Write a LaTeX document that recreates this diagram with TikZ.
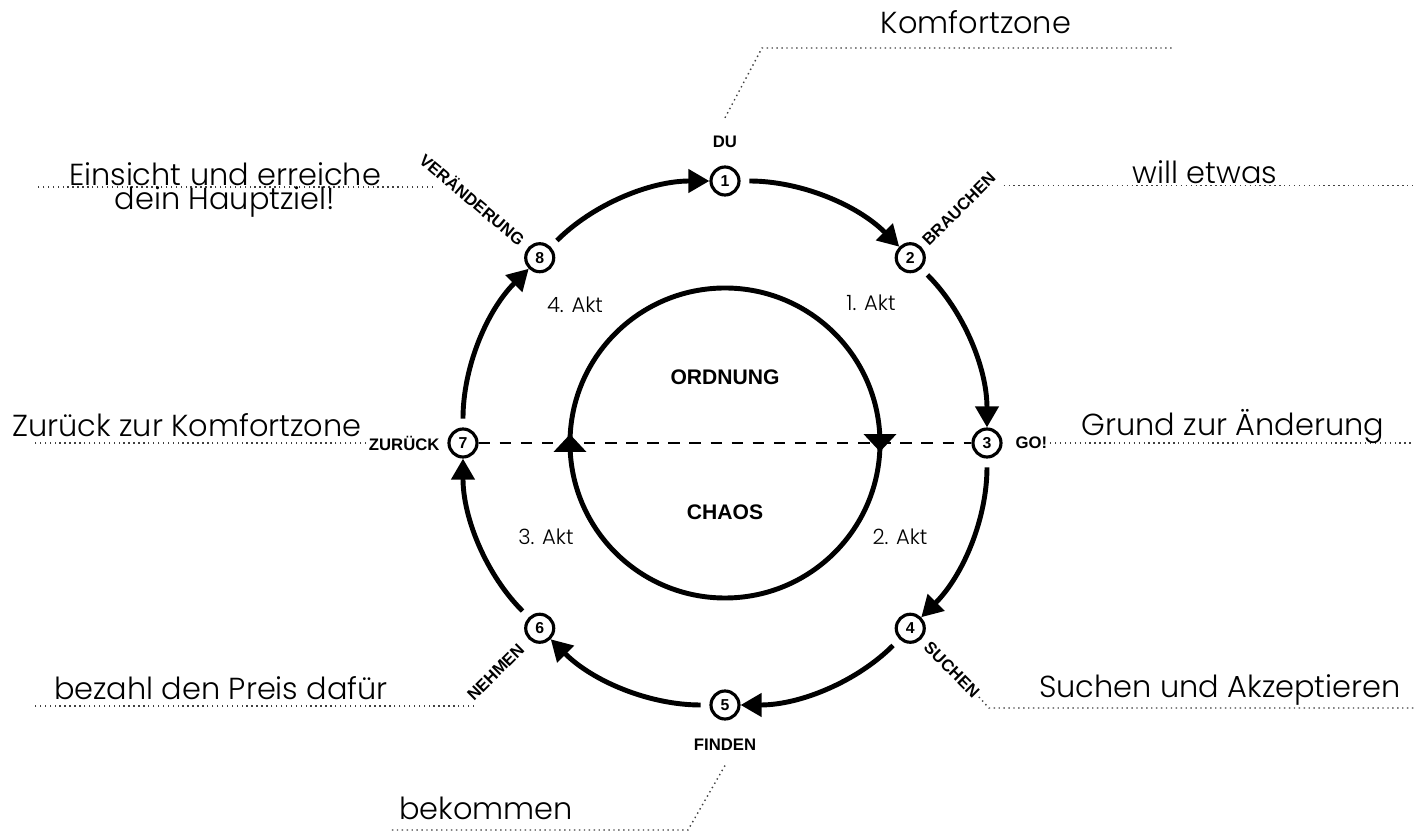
\documentclass[tikz,border=0pt]{standalone}
\usepackage{fontspec}
\setmainfont{Liberation Sans}
\newfontfamily\thinfont{Poppins Light}
\usepackage{tikz}
\usetikzlibrary{arrows.meta, positioning, decorations.markings}

\begin{document}
\begin{tikzpicture}[
        stepNode/.style={circle, draw=black, line width=1.8pt, fill=white,
        minimum size=5.6mm, inner sep=0pt, font=\fontsize{9}{9}\selectfont\bfseries},
        tagNode/.style={font=\fontsize{9.5}{9.5}\selectfont\bfseries, inner sep=1.5pt},
        noteNode/.style={font=\thinfont\fontsize{17.3}{14}\selectfont, align=center},
        actNode/.style={font=\thinfont\fontsize{12}{12}\selectfont},
        zoneNode/.style={font=\fontsize{12}{12}\selectfont\bfseries},
        flowArrow/.style={line width=2.8pt, -{Triangle[length=12pt, width=13pt]},
        shorten <=5pt, bend left=22.5, looseness=0.89},
        innerLoop/.style={line width=2.8pt, postaction={decorate},
        decoration={markings,
            mark=at position 0.25 with {\arrow[xshift=5pt]{Triangle[length=10pt, width=18pt]}},
            mark=at position 0.75 with {\arrow[xshift=5pt]{Triangle[length=10pt, width=18pt]}}}},
        leaderLine/.style={dotted, line width=0.8pt, black!75},
        splitLine/.style={line width=1pt, dash pattern=on 6.5pt off 5.5pt},
    ]
    \useasboundingbox (-14.5,-7.8) rectangle (14.04,8.86);

    % inner loop
    \draw[innerLoop] (90:3.1) arc[start angle=90, end angle=-270, radius=3.1];
    \node[zoneNode] (ordnung) at (0,1.32)  {ORDNUNG};
    \node[zoneNode] (chaos)   at (0,-1.38) {CHAOS};

    % the eight steps
    \node[stepNode] (stepDu)           at (90:5.24)   {1};
    \node[stepNode] (stepBrauchen)     at (45:5.24)   {2};
    \node[stepNode] (stepGo)           at (0:5.24)    {3};
    \node[stepNode] (stepSuchen)       at (-45:5.24)  {4};
    \node[stepNode] (stepFinden)       at (-90:5.24)  {5};
    \node[stepNode] (stepNehmen)       at (-135:5.24) {6};
    \node[stepNode] (stepZurueck)      at (180:5.24)  {7};
    \node[stepNode] (stepVeraenderung) at (135:5.24)  {8};

    \draw[splitLine] (stepZurueck) -- (stepGo);

    \draw[flowArrow] (stepDu)           to (stepBrauchen);
    \draw[flowArrow] (stepBrauchen)     to (stepGo);
    \draw[flowArrow] (stepGo)           to (stepSuchen);
    \draw[flowArrow] (stepSuchen)       to (stepFinden);
    \draw[flowArrow] (stepFinden)       to (stepNehmen);
    \draw[flowArrow] (stepNehmen)       to (stepZurueck);
    \draw[flowArrow] (stepZurueck)      to (stepVeraenderung);
    \draw[flowArrow] (stepVeraenderung) to (stepDu);

    % step labels
    \node[tagNode] (tagDu)      [above=3mm of stepDu]      {DU};
    \node[tagNode] (tagGo)      [right=2mm of stepGo]      {GO!};
    \node[tagNode] (tagFinden)  [below=3mm of stepFinden]  {FINDEN};
    \node[tagNode] (tagZurueck) [left=1mm of stepZurueck]  {ZURÜCK};
    \node[tagNode, rotate=45, anchor=west]  (tagBrauchen)      at ([shift={(45:0.5mm)}]stepBrauchen.45)        {BRAUCHEN};
    \node[tagNode, rotate=-45, anchor=west] (tagSuchen)        at ([shift={(-45:1mm)}]stepSuchen.-45)          {SUCHEN};
    \node[tagNode, rotate=45, anchor=east]  (tagNehmen)        at ([shift={(-135:1.5mm)}]stepNehmen.-135)      {NEHMEN};
    \node[tagNode, rotate=-40, anchor=east] (tagVeraenderung)  at ([shift={(135:1mm)}]stepVeraenderung.135)    {VERÄNDERUNG};

    % acts
    \node[actNode] (actOne)   at (2.92,2.8)    {1. Akt};
    \node[actNode] (actTwo)   at (3.5,-1.88)   {2. Akt};
    \node[actNode] (actThree) at (-3.58,-1.88) {3. Akt};
    \node[actNode] (actFour)  at (-3.0,2.76)   {4. Akt};

    % notes and leader lines
    \coordinate (kneeKomfort)  at (0.74,7.9);
    \coordinate (endKomfort)   at (8.94,7.9);
    \coordinate (edgeRight)    at (13.76,0);
    \coordinate (edgeLeft)     at (-13.8,0);
    \coordinate (endSuchen)    at (13.8,-5.3);
    \coordinate (kneeBekommen) at (-0.74,-7.74);
    \coordinate (endBekommen)  at (-6.7,-7.74);
    \coordinate (endEinsicht)  at (-5.84,5.12);

    \draw[leaderLine] ([yshift=3mm]tagDu.north) -- (kneeKomfort) -- (endKomfort);
    \draw[leaderLine] ([shift={(0.5mm,-1.2mm)}]tagBrauchen.south east) -- ([yshift=-1.2mm]tagBrauchen.south east -| edgeRight);
    \draw[leaderLine] (tagGo.east) -- (tagGo.east -| edgeRight);
    \draw[leaderLine] (tagSuchen.east) -- ([xshift=2mm]tagSuchen.east |- endSuchen) -- (endSuchen);
    \draw[leaderLine] ([yshift=-2.5mm]tagFinden.south) -- (kneeBekommen) -- (endBekommen);
    \draw[leaderLine] (tagNehmen.south west) -- (tagNehmen.south west -| edgeLeft);
    \draw[leaderLine] (tagZurueck.west) -- (tagZurueck.west -| edgeLeft);
    \draw[leaderLine] (endEinsicht) -- (endEinsicht -| edgeLeft);

    \node[noteNode] (noteKomfort)  at (5.02,8.42)   {Komfortzone};
    \node[noteNode] (noteWill)     at (9.6,5.42)    {will etwas};
    \node[noteNode] (noteGrund)    at (10.16,0.32)  {Grund zur Änderung};
    \node[noteNode] (noteSuchen)   at (9.9,-4.94)   {Suchen und Akzeptieren};
    \node[noteNode] (noteBekommen) at (-4.78,-7.3)  {bekommen};
    \node[noteNode] (notePreis)    at (-10.08,-4.9) {bezahl den Preis dafür};
    \node[noteNode] (noteZurueck)  at (-10.76,0.36) {Zurück zur Komfortzone};
    \node[noteNode] (noteEinsicht) at (-10.0,5.06)  {Einsicht und erreiche\\dein Hauptziel!};
\end{tikzpicture}
\end{document}
